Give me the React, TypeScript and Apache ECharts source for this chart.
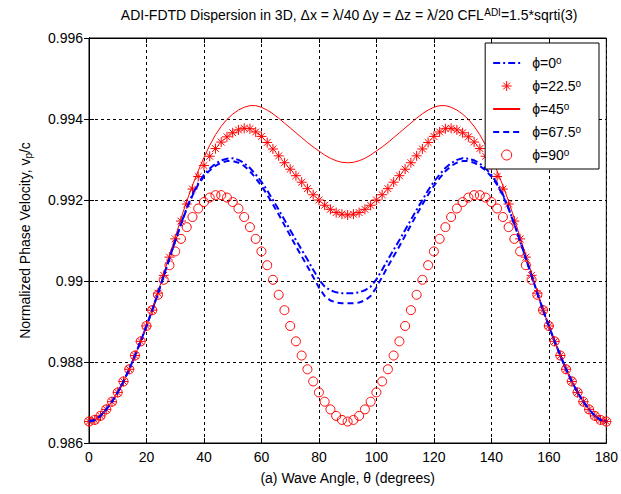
import React, { useEffect, useRef } from "react";
import * as echarts from "echarts";

const FONT = "'Liberation Sans', Arial, Helvetica, sans-serif";

// wave angle θ (degrees)
const theta = [
  0, 2, 4, 6, 8, 10, 12, 14, 16, 18,
  20, 22, 24, 26, 28, 30, 32, 34, 36, 38,
  40, 42, 44, 46, 48, 50, 52, 54, 56, 58,
  60, 62, 64, 66, 68, 70, 72, 74, 76, 78,
  80, 82, 84, 86, 88, 90, 92, 94, 96, 98,
  100, 102, 104, 106, 108, 110, 112, 114, 116, 118,
  120, 122, 124, 126, 128, 130, 132, 134, 136, 138,
  140, 142, 144, 146, 148, 150, 152, 154, 156, 158,
  160, 162, 164, 166, 168, 170, 172, 174, 176, 178,
  180,
];

// φ = 0°
const phi0 = [
  0.98653, 0.98657, 0.98667, 0.98683, 0.98702, 0.98725, 0.98752, 0.98782, 0.98816, 0.98851,
  0.98889, 0.98928, 0.98970, 0.99013, 0.99056, 0.99099, 0.99141, 0.99180, 0.99214, 0.99241,
  0.99262, 0.99278, 0.99290, 0.99298, 0.99302, 0.99303, 0.99299, 0.99291, 0.99279, 0.99263,
  0.99245, 0.99224, 0.99200, 0.99176, 0.99151, 0.99126, 0.99101, 0.99077, 0.99053, 0.99028,
  0.99004, 0.98986, 0.98977, 0.98972, 0.98970, 0.98970, 0.98970, 0.98972, 0.98977, 0.98986,
  0.99004, 0.99028, 0.99053, 0.99077, 0.99101, 0.99126, 0.99151, 0.99176, 0.99200, 0.99224,
  0.99245, 0.99263, 0.99279, 0.99291, 0.99299, 0.99303, 0.99302, 0.99298, 0.99290, 0.99278,
  0.99262, 0.99241, 0.99214, 0.99180, 0.99141, 0.99099, 0.99056, 0.99013, 0.98970, 0.98928,
  0.98889, 0.98851, 0.98816, 0.98782, 0.98752, 0.98725, 0.98702, 0.98683, 0.98667, 0.98657,
  0.98653,
];

// φ = 22.5°
const phi22 = [
  0.98653, 0.98657, 0.98667, 0.98683, 0.98702, 0.98725, 0.98752, 0.98782, 0.98816, 0.98851,
  0.98889, 0.98928, 0.98970, 0.99014, 0.99059, 0.99104, 0.99148, 0.99190, 0.99227, 0.99258,
  0.99285, 0.99308, 0.99327, 0.99343, 0.99356, 0.99366, 0.99373, 0.99377, 0.99376, 0.99368,
  0.99357, 0.99342, 0.99326, 0.99309, 0.99292, 0.99276, 0.99260, 0.99244, 0.99228, 0.99213,
  0.99200, 0.99187, 0.99177, 0.99169, 0.99165, 0.99163, 0.99165, 0.99169, 0.99177, 0.99187,
  0.99200, 0.99213, 0.99228, 0.99244, 0.99260, 0.99276, 0.99292, 0.99309, 0.99326, 0.99342,
  0.99357, 0.99368, 0.99376, 0.99377, 0.99373, 0.99366, 0.99356, 0.99343, 0.99327, 0.99308,
  0.99285, 0.99258, 0.99227, 0.99190, 0.99148, 0.99104, 0.99059, 0.99014, 0.98970, 0.98928,
  0.98889, 0.98851, 0.98816, 0.98782, 0.98752, 0.98725, 0.98702, 0.98683, 0.98667, 0.98657,
  0.98653,
];

// φ = 45°
const phi45 = [
  0.98653, 0.98657, 0.98667, 0.98683, 0.98702, 0.98725, 0.98752, 0.98782, 0.98816, 0.98851,
  0.98889, 0.98928, 0.98972, 0.99018, 0.99063, 0.99108, 0.99154, 0.99197, 0.99236, 0.99272,
  0.99305, 0.99335, 0.99361, 0.99382, 0.99399, 0.99412, 0.99422, 0.99429, 0.99433, 0.99433,
  0.99429, 0.99422, 0.99413, 0.99402, 0.99390, 0.99378, 0.99366, 0.99354, 0.99342, 0.99331,
  0.99321, 0.99311, 0.99303, 0.99297, 0.99293, 0.99292, 0.99293, 0.99297, 0.99303, 0.99311,
  0.99321, 0.99331, 0.99342, 0.99354, 0.99366, 0.99378, 0.99390, 0.99402, 0.99413, 0.99422,
  0.99429, 0.99433, 0.99433, 0.99429, 0.99422, 0.99412, 0.99399, 0.99382, 0.99361, 0.99335,
  0.99305, 0.99272, 0.99236, 0.99197, 0.99154, 0.99108, 0.99063, 0.99018, 0.98972, 0.98928,
  0.98889, 0.98851, 0.98816, 0.98782, 0.98752, 0.98725, 0.98702, 0.98683, 0.98667, 0.98657,
  0.98653,
];

// φ = 67.5°
const phi67 = [
  0.98653, 0.98657, 0.98667, 0.98683, 0.98702, 0.98725, 0.98752, 0.98782, 0.98816, 0.98851,
  0.98889, 0.98928, 0.98970, 0.99013, 0.99056, 0.99099, 0.99140, 0.99178, 0.99211, 0.99238,
  0.99258, 0.99273, 0.99284, 0.99292, 0.99296, 0.99296, 0.99292, 0.99284, 0.99271, 0.99254,
  0.99235, 0.99213, 0.99189, 0.99164, 0.99138, 0.99112, 0.99086, 0.99061, 0.99036, 0.99010,
  0.98984, 0.98963, 0.98952, 0.98947, 0.98945, 0.98945, 0.98945, 0.98947, 0.98952, 0.98963,
  0.98984, 0.99010, 0.99036, 0.99061, 0.99086, 0.99112, 0.99138, 0.99164, 0.99189, 0.99213,
  0.99235, 0.99254, 0.99271, 0.99284, 0.99292, 0.99296, 0.99296, 0.99292, 0.99284, 0.99273,
  0.99258, 0.99238, 0.99211, 0.99178, 0.99140, 0.99099, 0.99056, 0.99013, 0.98970, 0.98928,
  0.98889, 0.98851, 0.98816, 0.98782, 0.98752, 0.98725, 0.98702, 0.98683, 0.98667, 0.98657,
  0.98653,
];

// φ = 90°
const phi90 = [
  0.98653, 0.98657, 0.98667, 0.98683, 0.98702, 0.98725, 0.98752, 0.98782, 0.98816, 0.98851,
  0.98889, 0.98928, 0.98966, 0.99003, 0.99039, 0.99073, 0.99104, 0.99133, 0.99158, 0.99179,
  0.99195, 0.99206, 0.99212, 0.99212, 0.99206, 0.99195, 0.99179, 0.99158, 0.99133, 0.99104,
  0.99073, 0.99039, 0.99003, 0.98966, 0.98928, 0.98889, 0.98851, 0.98816, 0.98782, 0.98752,
  0.98725, 0.98702, 0.98683, 0.98667, 0.98657, 0.98653, 0.98657, 0.98667, 0.98683, 0.98702,
  0.98725, 0.98752, 0.98782, 0.98816, 0.98851, 0.98889, 0.98928, 0.98966, 0.99003, 0.99039,
  0.99073, 0.99104, 0.99133, 0.99158, 0.99179, 0.99195, 0.99206, 0.99212, 0.99212, 0.99206,
  0.99195, 0.99179, 0.99158, 0.99133, 0.99104, 0.99073, 0.99039, 0.99003, 0.98966, 0.98928,
  0.98889, 0.98851, 0.98816, 0.98782, 0.98752, 0.98725, 0.98702, 0.98683, 0.98667, 0.98657,
  0.98653,
];

const seriesNames = ["ϕ=0", "ϕ=22.5", "ϕ=45", "ϕ=67.5", "ϕ=90"];
const xTickLabels = ["0", "20", "40", "60", "80", "100", "120", "140", "160", "180"];
const yTickValues = [0.986, 0.988, 0.99, 0.992, 0.994, 0.996];
const yTickLabels = ["0.986", "0.988", "0.99", "0.992", "0.994", "0.996"];

const ASTERISK = "path://M5,0L5,10M0,5L10,5M1.6,1.6L8.4,8.4M1.6,8.4L8.4,1.6";

const pairs = (ys: number[]) => theta.map((t, i) => [t, ys[i]]);

export default function App() {
  const ref = useRef<HTMLDivElement>(null);

  useEffect(() => {
    if (!ref.current) return;
    const chart = echarts.init(ref.current, undefined, { renderer: "svg" });

    const gridLine = { show: true, lineStyle: { color: "#000", type: [3, 3], width: 1 } };
    const blackLine = { show: true, lineStyle: { color: "#000", width: 1 } };
    const tick = { show: true, inside: true, length: 5, lineStyle: { color: "#000" } };
    const hiddenSymbol = { color: "rgba(0,0,0,0)", borderWidth: 0, opacity: 0 };
    const markerStyle = { color: "rgba(0,0,0,0)", borderColor: "#ff0000", borderWidth: 1 };

    const option: any = {
      animation: false,
      backgroundColor: "#ffffff",
      textStyle: { fontFamily: FONT },
      graphic: [
        {
          type: "text",
          x: 349,
          y: 15,
          style: {
            text: "{t|ADI-FDTD Dispersion in 3D, Δx = λ/40 Δy = Δz = λ/20 CFL}{s|ADI}{t|=1.5*sqrti(3)}",
            textAlign: "center",
            textVerticalAlign: "middle",
            align: "center",
            verticalAlign: "middle",
            rich: {
              t: { fontSize: 14, fontFamily: FONT, fill: "#000", color: "#000", lineHeight: 16 },
              s: { fontSize: 10, fontFamily: FONT, fill: "#000", color: "#000", verticalAlign: "top", lineHeight: 8 },
            },
          },
        },
      ],
      grid: {
        left: 89,
        right: 14,
        top: 38,
        bottom: 51,
        show: true,
        borderColor: "#000",
        borderWidth: 1,
        backgroundColor: "#fff",
      },
      legend: {
        orient: "vertical",
        right: 22,
        top: 43,
        backgroundColor: "#fff",
        borderColor: "#000",
        borderWidth: 1,
        borderRadius: 0,
        padding: [12, 18, 7, 7],
        itemGap: 8,
        itemWidth: 27,
        itemHeight: 10,
        selectedMode: false,
        data: [
          { name: seriesNames[0], itemStyle: hiddenSymbol },
          { name: seriesNames[1], icon: ASTERISK, itemStyle: markerStyle },
          { name: seriesNames[2], itemStyle: hiddenSymbol },
          { name: seriesNames[3], itemStyle: hiddenSymbol },
          { name: seriesNames[4], icon: "circle", itemStyle: markerStyle },
        ],
        formatter: (name: string) => `{t|${name}}{s|o}`,
        textStyle: {
          padding: [0, 0, 0, 7],
          rich: {
            t: { fontSize: 14, fontFamily: FONT, color: "#000", lineHeight: 16 },
            s: { fontSize: 10, fontFamily: FONT, color: "#000", verticalAlign: "top", lineHeight: 8 },
          },
        },
      },
      xAxis: [
        {
          type: "value",
          min: 0,
          max: 180,
          interval: 20,
          position: "bottom",
          axisLine: blackLine,
          axisTick: tick,
          axisLabel: {
            color: "#000",
            fontSize: 14,
            fontFamily: FONT,
            margin: 7,
            formatter: (v: number) => xTickLabels[Math.round(v / 20)] ?? "",
          },
          splitLine: gridLine,
          name: "(a) Wave Angle, θ (degrees)",
          nameLocation: "middle",
          nameGap: 28,
          nameTextStyle: { color: "#000", fontSize: 14, fontFamily: FONT },
        },
        {
          type: "value",
          min: 0,
          max: 180,
          interval: 20,
          position: "top",
          axisLine: blackLine,
          axisTick: tick,
          axisLabel: { show: false },
          splitLine: { show: false },
        },
      ],
      yAxis: [
        {
          type: "value",
          min: yTickValues[0],
          max: yTickValues[yTickValues.length - 1],
          interval: 0.002,
          position: "left",
          axisLine: blackLine,
          axisTick: tick,
          axisLabel: {
            color: "#000",
            fontSize: 14,
            fontFamily: FONT,
            margin: 6,
            formatter: (v: number) => yTickLabels[Math.round((v - 0.986) / 0.002)] ?? "",
          },
          splitLine: gridLine,
          name: "{t|Normalized Phase Velocity, v}{b|p}{t|/c}",
          nameLocation: "middle",
          nameGap: 56,
          nameRotate: 90,
          nameTextStyle: {
            color: "#000",
            rich: {
              t: { fontSize: 14, fontFamily: FONT, color: "#000", lineHeight: 16 },
              b: { fontSize: 10, fontFamily: FONT, color: "#000", verticalAlign: "bottom", lineHeight: 6 },
            },
          },
        },
        {
          type: "value",
          min: yTickValues[0],
          max: yTickValues[yTickValues.length - 1],
          interval: 0.002,
          position: "right",
          axisLine: blackLine,
          axisTick: tick,
          axisLabel: { show: false },
          splitLine: { show: false },
        },
      ],
      series: [
        {
          name: seriesNames[0],
          type: "line",
          data: pairs(phi0),
          symbol: "none",
          silent: true,
          itemStyle: { color: "#0000ff" },
          lineStyle: { color: "#0000ff", width: 2, type: [7, 3, 2, 3] },
        },
        {
          name: seriesNames[1],
          type: "scatter",
          data: pairs(phi22),
          symbol: ASTERISK,
          symbolSize: 10,
          silent: true,
          itemStyle: { ...markerStyle, opacity: 1 },
        },
        {
          name: seriesNames[2],
          type: "line",
          data: pairs(phi45),
          symbol: "none",
          silent: true,
          itemStyle: { color: "#ff0000" },
          lineStyle: { color: "#ff0000", width: 1, type: "solid" },
        },
        {
          name: seriesNames[3],
          type: "line",
          data: pairs(phi67),
          symbol: "none",
          silent: true,
          itemStyle: { color: "#0000ff" },
          lineStyle: { color: "#0000ff", width: 2, type: [6, 4] },
        },
        {
          name: seriesNames[4],
          type: "scatter",
          data: pairs(phi90),
          symbol: "circle",
          symbolSize: 9,
          silent: true,
          itemStyle: { ...markerStyle, opacity: 1 },
        },
      ],
    };

    chart.setOption(option);
    return () => chart.dispose();
  }, []);

  return (
    <div
      ref={ref}
      style={{ position: "absolute", left: 0, top: 0, width: 621, height: 494, background: "#fff" }}
    />
  );
}
